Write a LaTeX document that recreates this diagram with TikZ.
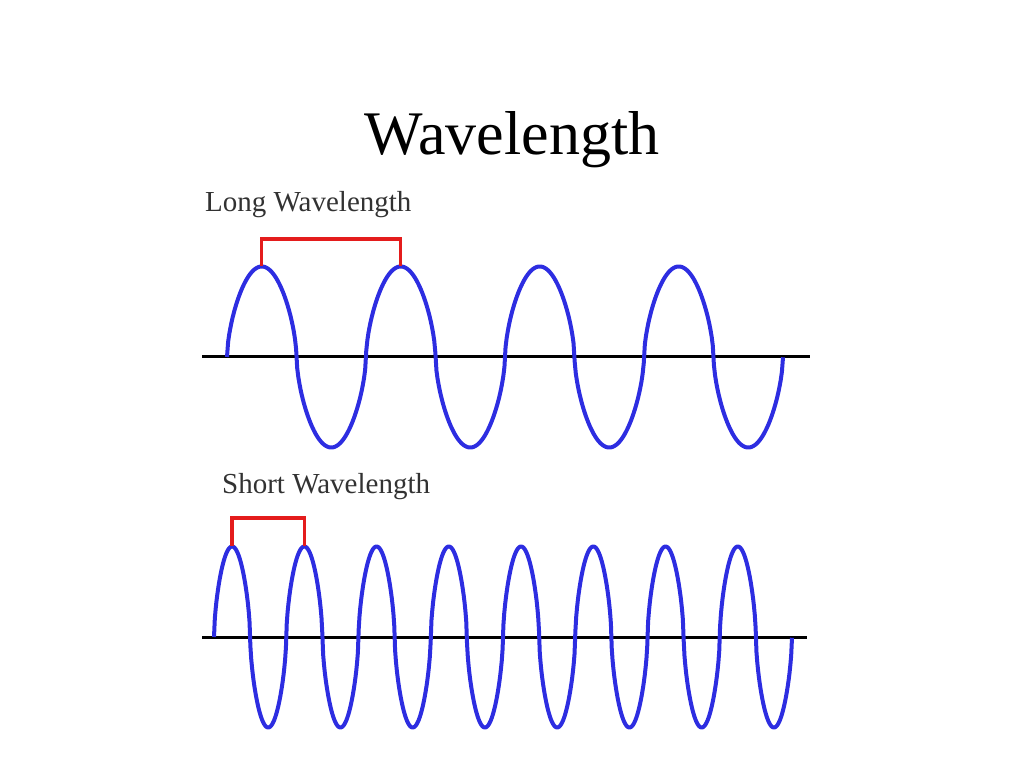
\documentclass[tikz,border=0pt]{standalone}
\usepackage{fontspec}
\setmainfont{Liberation Serif}
\usetikzlibrary{positioning}
\definecolor{wavecol}{RGB}{45,45,225}
\definecolor{markcol}{RGB}{228,28,28}
\definecolor{labelcol}{RGB}{50,50,50}

\begin{document}
\begin{tikzpicture}[x=1pt,y=1pt,
    declare function={wav(\t)=sin(\t)*(abs(sin(\t))+0.00001)^(-0.4);}]

\tikzset{wave/.style={wavecol,line width=4pt,line join=round},
         axisline/.style={black,line width=3pt},
         bracket/.style={markcol,line width=3.2pt},
         caption/.style={labelcol,font=\fontsize{29}{33}\selectfont,inner sep=0pt,anchor=base west}}

\useasboundingbox (0,0) rectangle (1024,768);

\node[font=\fontsize{62}{70}\selectfont,inner sep=0pt,anchor=base] (title) at (512,613) {Wavelength};

% long wave
\node[caption] (longlabel) at (205,556) {Long Wavelength};
\coordinate (longstart) at (202,411);
\coordinate (longend) at (810,411);
\draw[axisline] (longstart) -- (longend);
\draw[wave] plot[domain=0:556,samples=500] ({227+\x},{411+90.5*wav(\x/139*360)});
\coordinate (longpeakA) at (261.75,502);
\coordinate (longpeakB) at (400.75,502);
\coordinate (longtopA) at (261.75,529);
\coordinate (longtopB) at (400.75,529);
\draw[bracket] (longpeakA) -- (longtopA) -- (longtopB) -- (longpeakB);

% short wave
\node[caption] (shortlabel) at (222,274) {Short Wavelength};
\coordinate (shortstart) at (202,131);
\coordinate (shortend) at (807,131);
\draw[axisline] (shortstart) -- (shortend);
\draw[wave] plot[domain=0:578,samples=700] ({214+\x},{131+90.5*wav(\x/72.25*360)});
\coordinate (shortpeakA) at (232,222);
\coordinate (shortpeakB) at (304.25,222);
\coordinate (shorttopA) at (232,250);
\coordinate (shorttopB) at (304.25,250);
\draw[bracket] (shortpeakA) -- (shorttopA) -- (shorttopB) -- (shortpeakB);

\end{tikzpicture}
\end{document}
